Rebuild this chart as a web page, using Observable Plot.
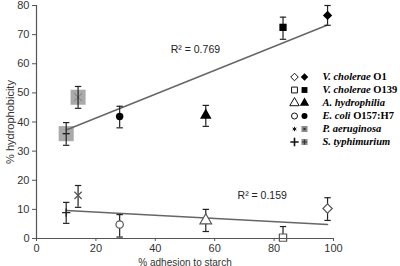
<!DOCTYPE html>
<html><head><meta charset="utf-8">
<script src="https://cdn.jsdelivr.net/npm/d3@7"></script>
<script src="https://cdn.jsdelivr.net/npm/@observablehq/plot@0.6"></script>
<style>
body{margin:0;background:#fff}
#wrap{position:relative;width:400px;height:266px;overflow:hidden}
#legend{position:absolute;left:285px;top:68px}
</style></head><body>
<div id="wrap"><div id="chart"></div><div id="legend"></div></div>
<script>
// ---- data ----
const species   = ["V. cholerae O1","V. cholerae O139","A. hydrophilia","E. coli O157:H7","P. aeruginosa","S. typhimurium"];
const italicPart = ["V. cholerae","V. cholerae","A. hydrophilia","E. coli","P. aeruginosa","S. typhimurium"];
const suffixPart = [" O1"," O139",""," O157:H7","",""];
const adhesion  = [98, 83, 57, 28, 14, 10];
const hydroFilled = [76.6, 72.5, 42.3, 41.9, 48.5, 36.0];
const filledLo    = [73.2, 68.4, 38.5, 38.0, 44.7, 32.0];
const filledHi    = [80.0, 76.0, 45.7, 45.4, 52.2, 39.8];
const hydroOpen   = [10.3, 0.3, 6.2, 4.8, 14.8, 8.9];
const openLo      = [6.2, 0.0, 2.4, 0.5, 10.7, 5.2];
const openHi      = [14.0, 4.1, 10.0, 8.2, 18.2, 12.4];
const openSymbol   = ["diamond2","square","triangle","circle","times","plus"];
const filledSymbol = ["diamond2","square","triangle","circle","square","square"];
const r2Labels = ["R² = 0.769","R² = 0.159"];
const r2X = [53.5, 76];
const r2Y = [64.8, 14.8];
const xTicks = [0,20,40,60,80,100];
const yTicks = [0,10,20,30,40,50,60,70,80];

const rows = species.map((s,i)=>({s, i, x:adhesion[i], yF:hydroFilled[i], loF:filledLo[i], hiF:filledHi[i],
  yO:hydroOpen[i], loO:openLo[i], hiO:openHi[i], os:openSymbol[i], fs:filledSymbol[i], gray:i>=4}));

const cap = {draw(ctx, size){ const w = Math.sqrt(size); ctx.moveTo(-w,0); ctx.lineTo(w,0);} };
const barC = "#222";
const openC = "#555";

const symR = {diamond2:4.2, square:4.1, triangle:4.3, circle:3.7, times:3.4, plus:2.8};

const marks = [
  Plot.dot(rows.filter(d=>d.gray), {x:"x", y:"yF", symbol:"square", r:8.5, fill:"#aaaaaa"}),
  Plot.dot(rows.filter(d=>d.i===4), {x:"x", y:"yF", symbol:"times", r:3.5, stroke:"#7a7a7a", strokeWidth:1}),
  Plot.linearRegressionY(rows, {x:"x", y:"yF", stroke:"#666", strokeWidth:1.5, ci:0}),
  Plot.linearRegressionY(rows, {x:"x", y:"yO", stroke:"#666", strokeWidth:1.5, ci:0}),
  Plot.ruleX(rows, {x:"x", y1:"loF", y2:"hiF", stroke:barC, strokeWidth:1.2}),
  Plot.ruleX(rows, {x:"x", y1:"loO", y2:"hiO", stroke:barC, strokeWidth:1.2}),
  Plot.dot(rows, {x:"x", y:"loF", symbol:cap, r:1.8, stroke:barC, strokeWidth:1.2}),
  Plot.dot(rows, {x:"x", y:"hiF", symbol:cap, r:1.8, stroke:barC, strokeWidth:1.2}),
  Plot.dot(rows, {x:"x", y:"loO", symbol:cap, r:1.8, stroke:barC, strokeWidth:1.2}),
  Plot.dot(rows, {x:"x", y:"hiO", symbol:cap, r:1.8, stroke:barC, strokeWidth:1.2}),
];
// open symbols
for (const d of rows) {
  const isStroke = d.os==="times" || d.os==="plus";
  marks.push(Plot.dot([d], {x:"x", y:"yO", symbol:d.os, r:symR[d.os],
    stroke: d.os==="plus" ? "#222" : openC, strokeWidth: d.os==="plus"?1.3:1.2, fill: isStroke?"none":"white"}));
}
// filled symbols
for (const d of rows.filter(d=>!d.gray)) {
  marks.push(Plot.dot([d], {x:"x", y:"yF", symbol:d.fs, r:symR[d.fs], fill:"#000"}));
}
marks.push(Plot.dot(rows.filter(d=>d.i===5), {x:"x", y:"yF", symbol:cap, r:2.0, stroke:"#222", strokeWidth:1.4}));
marks.push(
  Plot.ruleY([0], {stroke:"#555", strokeWidth:1.2}),
  Plot.ruleX([0], {stroke:"#555", strokeWidth:1.2}),
  Plot.axisX({ticks:xTicks, tickSize:3, tickPadding:3, stroke:"#555", label:null, fill:"#333"}),
  Plot.axisX({ticks:[], tickSize:0, label:"% adhesion to starch", labelAnchor:"center", labelArrow:"none", labelOffset:27, fill:"#333", fontSize:10}),
  Plot.axisY({ticks:yTicks, tickSize:4, tickPadding:3, stroke:"#555", label:"% hydrophobicity", labelAnchor:"center", labelArrow:"none", labelOffset:30, fill:"#333"}),
  Plot.text(r2Labels, {x:(d,i)=>r2X[i], y:(d,i)=>r2Y[i], text:d=>d, fontSize:10.5, fill:"#222"})
);

const chart = Plot.plot({
  width:400, height:266,
  marginLeft:36, marginRight:67, marginTop:5, marginBottom:28,
  x:{domain:[0,100]}, y:{domain:[0,80]},
  style:{fontFamily:"'Liberation Sans', Arial, sans-serif", fontSize:"11px", background:"white", overflow:"visible"},
  marks
});
document.getElementById("chart").appendChild(chart);

// ---- legend ----
const lrows = species.map((s,i)=>({s,i,os:openSymbol[i],fs:filledSymbol[i],gray:i>=4}));
const lmarks = [];
const lR = {diamond2:3.4, square:3.3, triangle:3.5, circle:3.0};
for (const d of lrows) {
  const isStroke = d.os==="times" || d.os==="plus";
  lmarks.push(Plot.dot([d], {x:()=>9, y:"s", symbol: d.os==="times"?"asterisk":d.os, r: d.os==="times"?2.0:(d.os==="plus"?2.8:lR[d.os]),
    stroke:"#111", strokeWidth: d.os==="plus"?1.6:1.0, fill:isStroke?"none":"white"}));
  if (d.gray) {
    lmarks.push(Plot.dot([d], {x:()=>19, y:"s", symbol:"square", r:3.4, fill:"#8a8a8a"}));
    lmarks.push(Plot.dot([d], {x:()=>19, y:"s", symbol:d.i===4?"square":"plus", r:d.i===4?1.2:1.8, fill:"#333", stroke:d.i===4?"none":"#333", strokeWidth:1.1}));
  } else {
    lmarks.push(Plot.dot([d], {x:()=>19, y:"s", symbol:d.fs, r:lR[d.fs], fill:"#000"}));
  }
}
lmarks.push(Plot.text(lrows, {x:()=>37, y:"s", text:d=>italicPart[d.i], textAnchor:"start", fontStyle:"italic", fontWeight:"bold", fontSize:10.5, fill:"#000"}));
const legend = Plot.plot({
  width:115, height:81, margin:0, axis:null,
  x:{type:"identity"},
  y:{type:"band", domain:species, range:[0,81], padding:0},
  style:{fontFamily:"'Liberation Serif', 'Times New Roman', serif", background:"transparent", overflow:"visible"},
  marks:lmarks
});
d3.select(legend).selectAll("g[aria-label='text'] text").each(function(d,k){
  const t = d3.select(this);
  if (suffixPart[k]) t.append("tspan").attr("font-style","normal").text(suffixPart[k]);
});
document.getElementById("legend").appendChild(legend);
</script></body></html>
